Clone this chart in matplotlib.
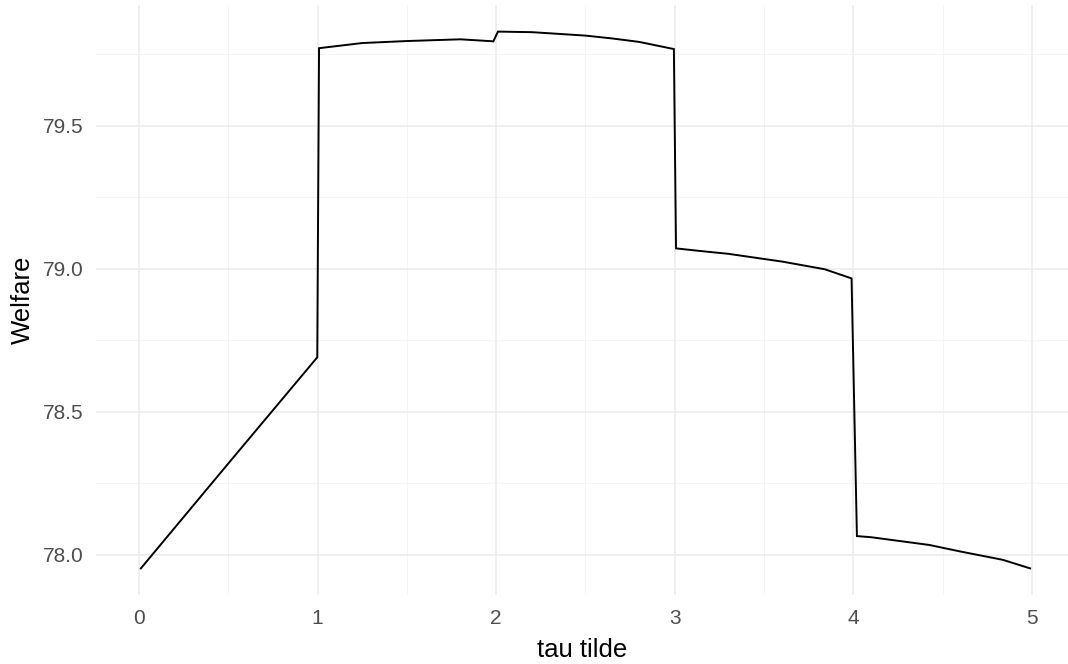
"""
Welfare as a function of tau tilde (ggplot theme_minimal look)
"""

import matplotlib.pyplot as plt
from matplotlib.ticker import MultipleLocator

tau = [0.01, 0.5, 0.998, 1.008, 1.25, 1.5, 1.8, 1.984, 2.01, 2.2, 2.5,
       2.65, 2.8, 2.995, 3.007, 3.14, 3.3, 3.477, 3.6, 3.84, 3.99, 4.02,
       4.1, 4.425, 4.6, 4.837, 4.99]
welfare = [77.953, 78.32, 78.691, 79.772, 79.790, 79.797, 79.803, 79.796,
           79.830, 79.828, 79.816, 79.806, 79.794, 79.769, 79.072, 79.063,
           79.053, 79.037, 79.026, 78.999, 78.967, 78.066, 78.062, 78.035,
           78.012, 77.983, 77.953]

xticks = [0, 1, 2, 3, 4, 5]
yticks = [78.0, 78.5, 79.0, 79.5]

plt.rcParams['font.family'] = ['Liberation Sans', 'DejaVu Sans']

W, H = 1068, 664
fig = plt.figure(figsize=(W / 100, H / 100), dpi=100)
# panel in pixels: left 96, right 1068, top 5, bottom 595
ax = fig.add_axes([96 / W, (H - 595) / H, (1068 - 96) / W, (595 - 5) / H])

ax.plot(tau, welfare, color="black", linewidth=1.4, solid_joinstyle="miter")

ax.set_xlim(-0.241, 5.202)
ax.set_ylim(77.860, 79.923)
ax.set_xticks(xticks)
ax.set_yticks(yticks)
ax.set_yticklabels(["%.1f" % v for v in yticks])
ax.xaxis.set_minor_locator(MultipleLocator(0.5))
ax.yaxis.set_minor_locator(MultipleLocator(0.25))

ax.grid(which="major", color="#EBEBEB", linewidth=1.1)
ax.grid(which="minor", color="#F2F2F2", linewidth=0.6)
ax.set_axisbelow(True)
for s in ax.spines.values():
    s.set_visible(False)
ax.tick_params(which="both", length=0)
ax.tick_params(axis="x", pad=10, labelsize=15, labelcolor="#4D4D4D")
ax.tick_params(axis="y", pad=9, labelsize=15, labelcolor="#4D4D4D")

ax.set_xlabel("tau tilde", fontsize=18.5, labelpad=7)
ax.set_ylabel("Welfare", fontsize=18.5, labelpad=6)

plt.savefig("out.png", dpi=100)
